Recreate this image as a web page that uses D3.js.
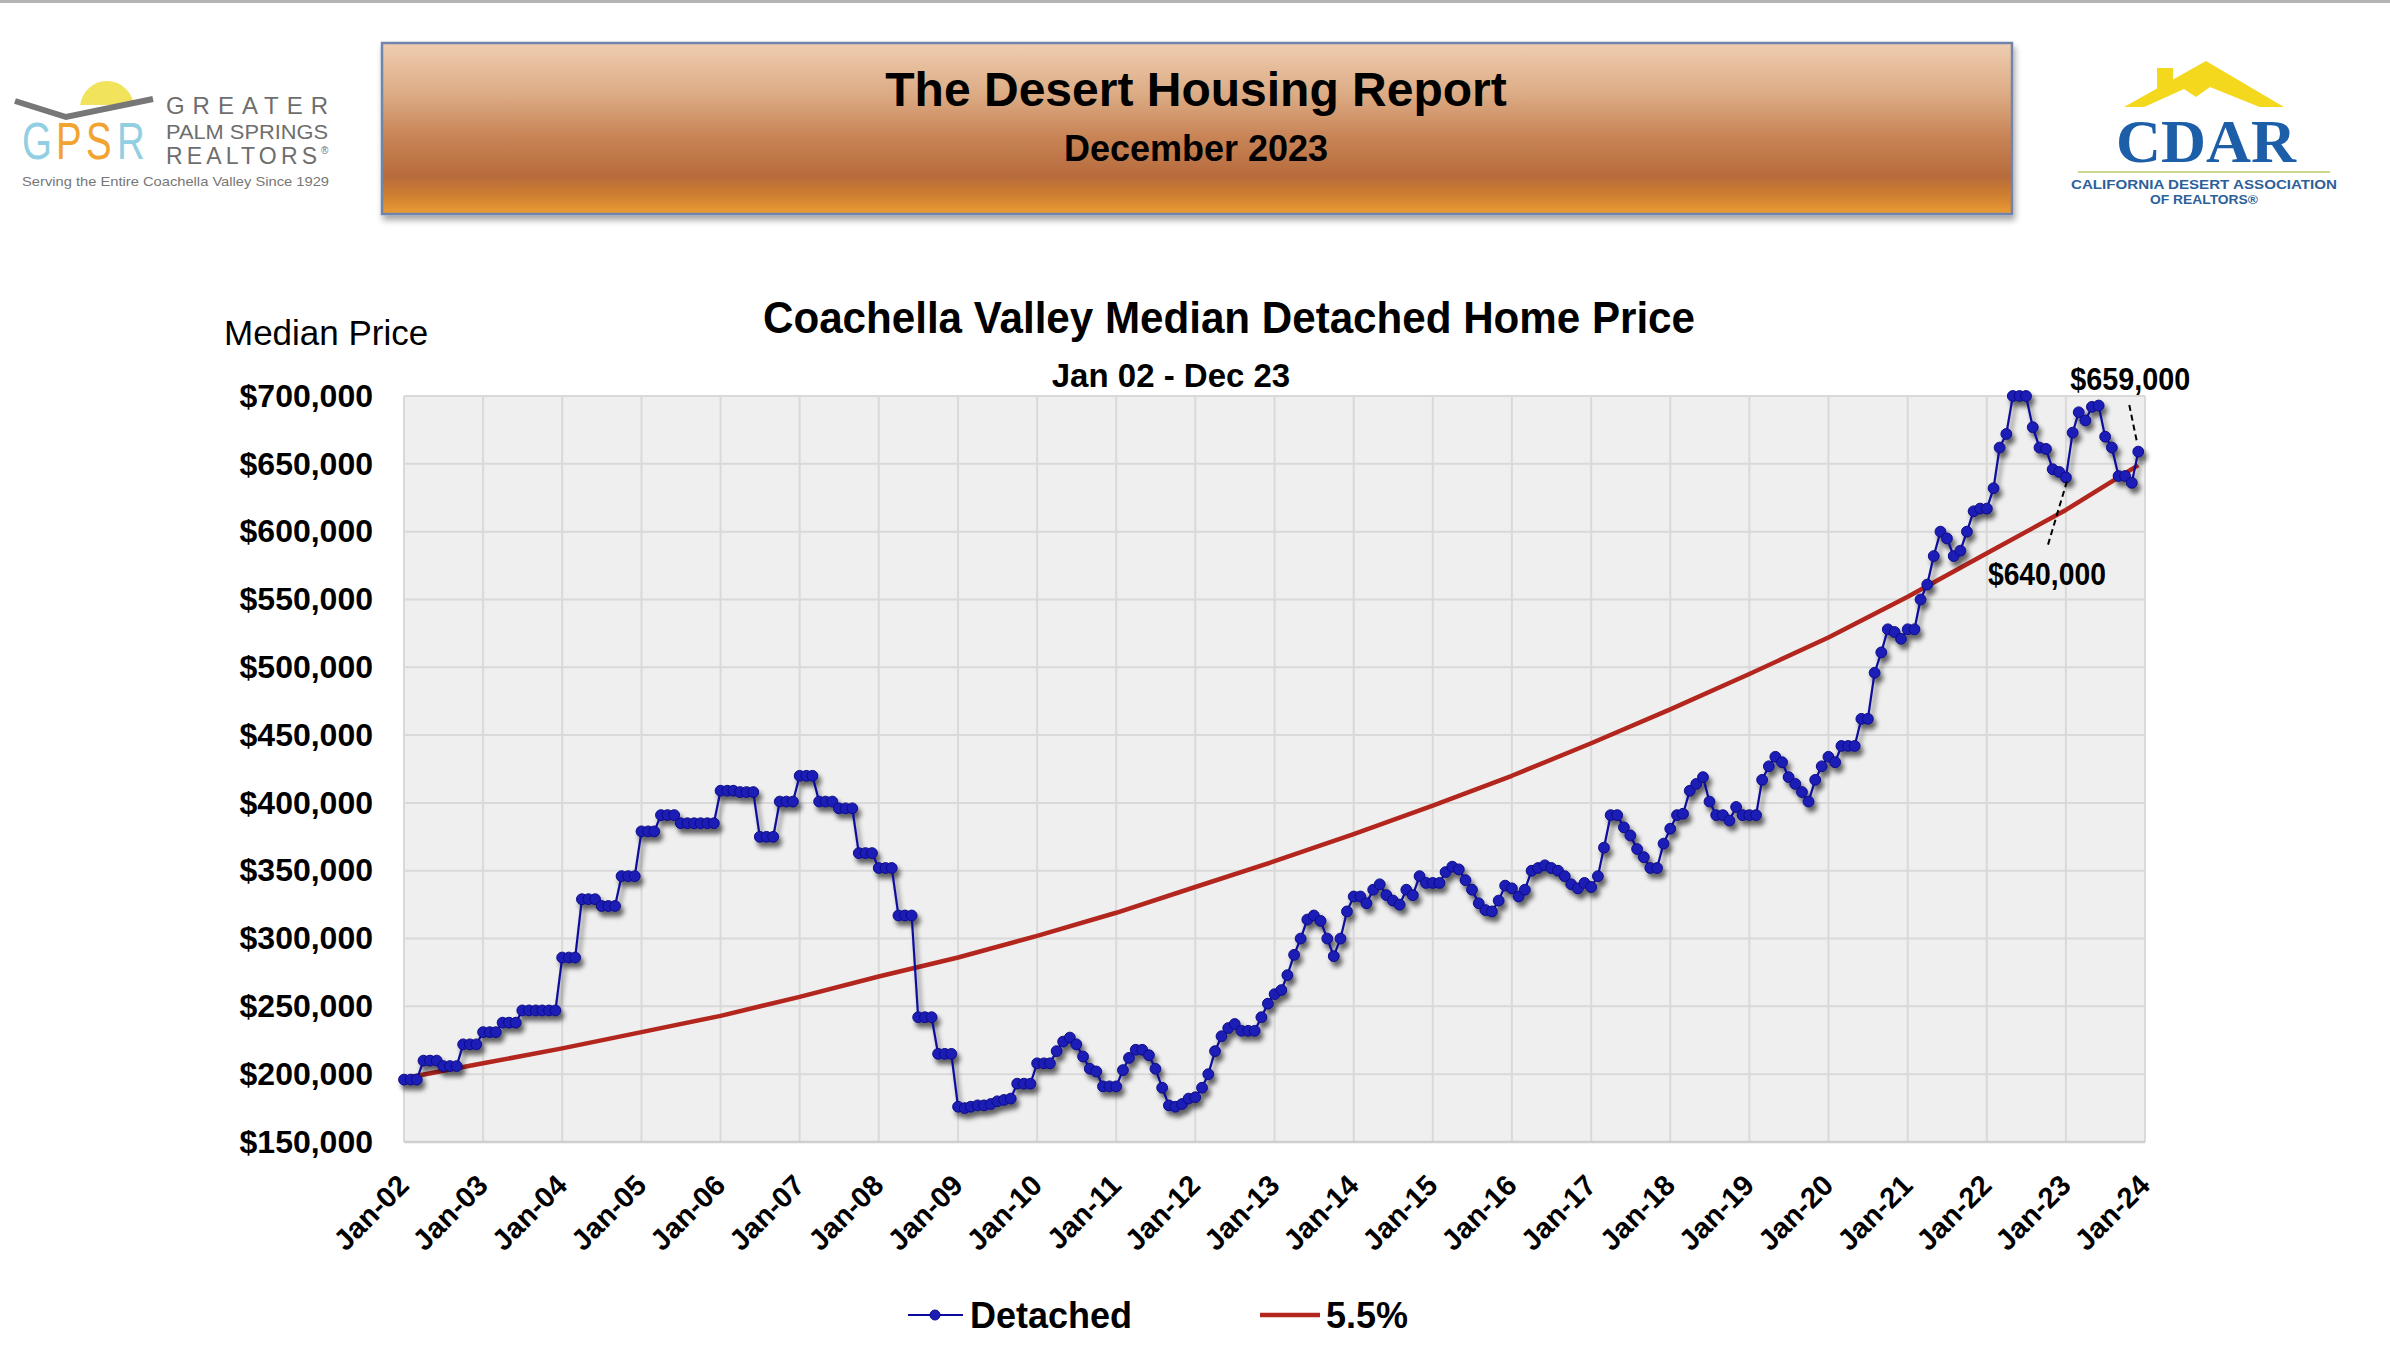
<!DOCTYPE html>
<html>
<head>
<meta charset="utf-8">
<script src="https://cdn.jsdelivr.net/npm/d3@7"></script>
<style>
  html, body { margin: 0; padding: 0; background: #ffffff; }
  svg { display: block; }
</style>
</head>
<body>
<svg id="chart" width="2390" height="1372"></svg>
<script>
// ---------------- DATA ----------------
const startYear = 2002;

// Monthly median detached price, Jan 2002 .. Dec 2023 (values in $)
const detached2002 = [196000,196000,196000,210000,210000,210000,206000,206000,206000,222000,222000,222000];
const detached2003 = [231000,231000,231000,238000,238000,238000,247000,247000,247000,247000,247000,247000];
const detached2004 = [286000,286000,286000,329000,329000,329000,324000,324000,324000,346000,346000,346000];
const detached2005 = [379000,379000,379000,391000,391000,391000,385000,385000,385000,385000,385000,385000];
const detached2006 = [409000,409000,409000,408000,408000,408000,375000,375000,375000,401000,401000,401000];
const detached2007 = [420000,420000,420000,401000,401000,401000,396000,396000,396000,363000,363000,363000];
const detached2008 = [352000,352000,352000,317000,317000,317000,242000,242000,242000,215000,215000,215000];
const detached2009 = [176000,175000,176000,177000,177000,178000,180000,181000,182000,193000,193000,193000];
const detached2010 = [208000,208000,208000,217000,224000,227000,222000,213000,204000,202000,191000,191000];
const detached2011 = [191000,203000,212000,218000,218000,214000,204000,190000,177000,176000,178000,182000];
const detached2012 = [183000,190000,200000,217000,228000,234000,237000,232000,232000,232000,242000,252000];
const detached2013 = [259000,262000,273000,288000,300000,314000,317000,313000,300000,287000,300000,320000];
const detached2014 = [331000,331000,326000,336000,340000,332000,328000,325000,336000,332000,346000,341000];
const detached2015 = [341000,341000,349000,353000,351000,343000,336000,326000,321000,320000,328000,339000];
const detached2016 = [337000,331000,336000,350000,352000,354000,352000,350000,346000,340000,337000,341000];
const detached2017 = [338000,346000,367000,391000,391000,382000,376000,366000,360000,352000,352000,370000];
const detached2018 = [381000,391000,392000,409000,414000,419000,401000,391000,391000,387000,397000,391000];
const detached2019 = [391000,391000,417000,427000,434000,430000,419000,414000,408000,401000,417000,427000];
const detached2020 = [434000,430000,442000,442000,442000,462000,462000,496000,511000,528000,526000,521000];
const detached2021 = [528000,528000,550000,561000,582000,600000,595000,582000,586000,600000,615000,617000];
const detached2022 = [617000,632000,662000,672000,700000,700000,700000,677000,662000,661000,646000,644000];
const detached2023 = [640000,673000,688000,682000,692000,693000,670000,662000,641000,641000,636000,659000];

// 5.5% reference line, read at each January (plus final Dec 2023)
const refLabels = ["Jan-02","Jan-03","Jan-04","Jan-05","Jan-06","Jan-07","Jan-08","Jan-09","Jan-10","Jan-11","Jan-12",
                   "Jan-13","Jan-14","Jan-15","Jan-16","Jan-17","Jan-18","Jan-19","Jan-20","Jan-21","Jan-22","Jan-23","Dec-23"];
const refValues = [197000,208000,219000,231000,243000,257000,272000,286000,302000,319000,338000,
                   357000,377000,398000,420000,444000,469000,495000,522000,552000,584000,616000,649000];

// axis ticks
const yTicks = [150000,200000,250000,300000,350000,400000,450000,500000,550000,600000,650000,700000];
const xTickLabels = ["Jan-02","Jan-03","Jan-04","Jan-05","Jan-06","Jan-07","Jan-08","Jan-09","Jan-10","Jan-11","Jan-12",
                     "Jan-13","Jan-14","Jan-15","Jan-16","Jan-17","Jan-18","Jan-19","Jan-20","Jan-21","Jan-22","Jan-23","Jan-24"];

// annotations
const annotLast = {label: "$659,000", value: 659000, month: "2023-12"};
const annotLow  = {label: "$640,000", value: 640000, month: "2023-01"};

// texts
const headerTitle = "The Desert Housing Report";
const headerSub = "December 2023";
const chartTitle = "Coachella Valley Median Detached Home Price";
const chartSub = "Jan 02 - Dec 23";
const yAxisTitle = "Median Price";
const seriesNames = ["Detached", "5.5%"];
const gpsrLetters = ["G", "P", "S", "R"];
const gpsrLines = ["GREATER", "PALM SPRINGS", "REALTORS"];
const gpsrTag = "Serving the Entire Coachella Valley Since 1929";
const cdarLines = ["CALIFORNIA DESERT ASSOCIATION", "OF REALTORS®"];

// ---------------- BUILD ----------------
const SANS = "'Liberation Sans', Arial, Helvetica, sans-serif";
const NARROW = "'Liberation Sans Narrow', 'Liberation Sans', Arial, sans-serif";
const SERIF = "'Liberation Serif', 'DejaVu Serif', 'Times New Roman', serif";

const detachedYears = [detached2002,detached2003,detached2004,detached2005,detached2006,detached2007,detached2008,
  detached2009,detached2010,detached2011,detached2012,detached2013,detached2014,detached2015,detached2016,
  detached2017,detached2018,detached2019,detached2020,detached2021,detached2022,detached2023];
const detached = [];
detachedYears.forEach((arr, yi) => arr.forEach((v, m) => detached.push({date: new Date(startYear + yi, m, 1), value: v})));

const parseLbl = s => {
  const mon = s.slice(0,3) === "Jan" ? 0 : 11;
  return new Date(2000 + (+s.slice(4)), mon, 1);
};
const refSeries = refLabels.map((l, i) => ({date: parseLbl(l), value: refValues[i]}));
const xTickDates = xTickLabels.map(parseLbl);

const svg = d3.select("#chart").attr("font-family", SANS);
const defs = svg.append("defs");

// top thin rule
svg.append("rect").attr("x",0).attr("y",0).attr("width",2390).attr("height",3).attr("fill","#b4b4b4");

// ---- header banner
const grad = defs.append("linearGradient").attr("id","hdrGrad").attr("x1",0).attr("y1",0).attr("x2",0).attr("y2",1);
[[0,"#efcdb1"],[0.3,"#dcab84"],[0.55,"#c88456"],[0.78,"#b76b3c"],[0.9,"#d2812f"],[1,"#ec9c34"]]
  .forEach(s => grad.append("stop").attr("offset", s[0]).attr("stop-color", s[1]));
const hShadow = defs.append("filter").attr("id","hdrShadow").attr("x","-5%").attr("y","-20%").attr("width","110%").attr("height","150%");
hShadow.append("feDropShadow").attr("dx",2).attr("dy",5).attr("stdDeviation",3).attr("flood-color","#000").attr("flood-opacity",0.35);

svg.append("rect").attr("x",382).attr("y",43).attr("width",1630).attr("height",171)
  .attr("fill","url(#hdrGrad)").attr("stroke","#6f84ad").attr("stroke-width",2.5)
  .attr("filter","url(#hdrShadow)");
svg.append("text").attr("x",1196).attr("y",106).attr("text-anchor","middle")
  .attr("font-size",48).attr("font-weight","bold").attr("fill","#000").text(headerTitle);
svg.append("text").attr("x",1196).attr("y",161).attr("text-anchor","middle")
  .attr("font-size",36).attr("font-weight","bold").attr("fill","#000").text(headerSub);

// ---- GPSR logo
const gp = svg.append("g");
defs.append("clipPath").attr("id","sunClip").append("rect").attr("x",60).attr("y",60).attr("width",100).attr("height",45);
gp.append("circle").attr("cx",107).attr("cy",108).attr("r",27).attr("fill","#f1e35c").attr("clip-path","url(#sunClip)");
gp.append("polyline").attr("points","15,101 66,117 153,99").attr("fill","none").attr("stroke","#777").attr("stroke-width",6).attr("stroke-linejoin","miter");
const gpsrStyle = [[22,"#93cfe2"],[56,"#f2a431"],[86,"#f2a431"],[117,"#93cfe2"]];
gpsrLetters.forEach((ch, i) => {
  gp.append("text").attr("transform",`translate(${gpsrStyle[i][0]},159) scale(0.74,1)`)
    .attr("font-size",52).attr("fill",gpsrStyle[i][1]).text(ch);
});
const gCol = "#6e6e6e";
gp.append("text").attr("x",166).attr("y",114).attr("font-size",24).attr("fill",gCol).attr("font-family",NARROW)
  .attr("textLength",162).attr("lengthAdjust","spacing").text(gpsrLines[0]);
gp.append("text").attr("x",166).attr("y",139).attr("font-size",21).attr("fill",gCol).attr("font-family",NARROW)
  .attr("textLength",162).attr("lengthAdjust","spacingAndGlyphs").text(gpsrLines[1]);
gp.append("text").attr("x",166).attr("y",164).attr("font-size",23).attr("fill",gCol).attr("font-family",NARROW)
  .attr("textLength",151).attr("lengthAdjust","spacing").text(gpsrLines[2]);
gp.append("text").attr("x",321).attr("y",154).attr("font-size",10).attr("fill",gCol).text("®");
gp.append("text").attr("x",22).attr("y",186).attr("font-size",13).attr("fill","#777").attr("font-family",NARROW)
  .attr("textLength",307).attr("lengthAdjust","spacingAndGlyphs").text(gpsrTag);

// ---- CDAR logo
const cd = svg.append("g");
cd.append("rect").attr("x",2157).attr("y",68).attr("width",16).attr("height",22).attr("fill","#f4d81e");
cd.append("polygon").attr("points","2124,107 2206,61 2284,107").attr("fill","#f4d81e");
cd.append("polygon").attr("points","2142,108 2184,89 2196,97 2210,87 2262,108").attr("fill","#ffffff");
cd.append("text").attr("x",2206).attr("y",162).attr("text-anchor","middle").attr("font-size",62).attr("font-weight","bold")
  .attr("font-family",SERIF).attr("fill","#1d5ea9")
  .attr("textLength",180).attr("lengthAdjust","spacingAndGlyphs").text("CDAR");
cd.append("line").attr("x1",2078).attr("x2",2330).attr("y1",172).attr("y2",172).attr("stroke","#cbd88a").attr("stroke-width",2);
cd.append("text").attr("x",2204).attr("y",189).attr("text-anchor","middle").attr("font-size",13).attr("font-weight","bold").attr("fill","#2d5f9a")
  .attr("textLength",266).attr("lengthAdjust","spacingAndGlyphs").text(cdarLines[0]);
cd.append("text").attr("x",2204).attr("y",204).attr("text-anchor","middle").attr("font-size",13).attr("font-weight","bold").attr("fill","#2d5f9a")
  .attr("textLength",108).attr("lengthAdjust","spacingAndGlyphs").text(cdarLines[1]);

// ---- chart
const plot = {left: 404, right: 2145, top: 396, bottom: 1142};
const x = d3.scaleTime().domain([xTickDates[0], xTickDates[xTickDates.length-1]]).range([plot.left, plot.right]);
const y = d3.scaleLinear().domain([yTicks[0], yTicks[yTicks.length-1]]).range([plot.bottom, plot.top]);

svg.append("rect").attr("x",plot.left).attr("y",plot.top).attr("width",plot.right-plot.left).attr("height",plot.bottom-plot.top)
  .attr("fill","#efefef");

const grid = svg.append("g");
grid.selectAll("line.v").data(xTickDates).join("line")
  .attr("x1",d=>x(d)).attr("x2",d=>x(d)).attr("y1",plot.top).attr("y2",plot.bottom)
  .attr("stroke","#d9d9d9").attr("stroke-width",2);
grid.selectAll("line.h").data(yTicks).join("line")
  .attr("x1",plot.left).attr("x2",plot.right).attr("y1",d=>y(d)).attr("y2",d=>y(d))
  .attr("stroke","#d9d9d9").attr("stroke-width",2);
svg.append("line").attr("x1",plot.left).attr("x2",plot.right).attr("y1",plot.bottom).attr("y2",plot.bottom)
  .attr("stroke","#cfcfcf").attr("stroke-width",2.5);

// y axis labels
const yAxis = svg.append("g").attr("transform",`translate(${plot.left},0)`)
  .call(d3.axisLeft(y).tickValues(yTicks).tickFormat(d3.format("$,")).tickSize(0).tickPadding(31));
yAxis.select(".domain").remove();
yAxis.selectAll("text").attr("font-size",32).attr("font-weight","bold").attr("fill","#000").attr("font-family",SANS);

// x axis labels
const xAxis = svg.append("g").attr("transform",`translate(0,${plot.bottom})`)
  .call(d3.axisBottom(x).tickValues(xTickDates).tickFormat((d,i)=>xTickLabels[i]).tickSize(0));
xAxis.select(".domain").remove();
xAxis.selectAll("text").attr("font-size",29).attr("font-weight","bold").attr("fill","#000").attr("font-family",SANS)
  .attr("text-anchor","end").attr("x",0).attr("y",0).attr("dy","0.35em")
  .attr("transform","translate(-1,38) rotate(-45)");

// titles
svg.append("text").attr("x",1229).attr("y",333).attr("text-anchor","middle").attr("font-size",44).attr("font-weight","bold")
  .attr("textLength",932).attr("lengthAdjust","spacingAndGlyphs").text(chartTitle);
svg.append("text").attr("x",1171).attr("y",387).attr("text-anchor","middle").attr("font-size",33).attr("font-weight","bold")
  .text(chartSub);
svg.append("text").attr("x",224).attr("y",345).attr("font-size",35).attr("fill","#000").text(yAxisTitle);

// 5.5% line
const lineGen = d3.line().x(d=>x(d.date)).y(d=>y(d.value));
svg.append("path").datum(refSeries).attr("d",lineGen).attr("fill","none")
  .attr("stroke","#b3261e").attr("stroke-width",4.5).attr("stroke-linejoin","round");

// Detached series with drop shadow
const sh = defs.append("filter").attr("id","ptShadow").attr("x","-5%").attr("y","-5%").attr("width","110%").attr("height","115%");
sh.append("feGaussianBlur").attr("in","SourceAlpha").attr("stdDeviation",2.6).attr("result","b");
sh.append("feOffset").attr("in","b").attr("dx",3).attr("dy",5).attr("result","o");
sh.append("feComponentTransfer").attr("in","o").attr("result","o2")
  .append("feFuncA").attr("type","linear").attr("slope",0.6);
const mg = sh.append("feMerge");
mg.append("feMergeNode").attr("in","o2");
mg.append("feMergeNode").attr("in","SourceGraphic");

const det = svg.append("g").attr("filter","url(#ptShadow)");
det.append("path").datum(detached).attr("d",lineGen).attr("fill","none")
  .attr("stroke","#0a0a9a").attr("stroke-width",2.2);
det.selectAll("circle").data(detached).join("circle")
  .attr("cx",d=>x(d.date)).attr("cy",d=>y(d.value)).attr("r",5.4)
  .attr("fill","#1d1db6").attr("stroke","#0b0b85").attr("stroke-width",1);

// annotations
const findPt = m => detached.find(d => d3.timeFormat("%Y-%m")(d.date) === m);
const pLast = findPt(annotLast.month), pLow = findPt(annotLow.month);
svg.append("text").attr("x",x(pLast.date)-8).attr("y",y(yTicks[yTicks.length-1])-6).attr("text-anchor","middle")
  .attr("font-size",31).attr("font-weight","bold").attr("textLength",120).attr("lengthAdjust","spacingAndGlyphs")
  .text(annotLast.label);
svg.append("line").attr("x1",x(pLast.date)-9).attr("y1",y(yTicks[yTicks.length-1])+9)
  .attr("x2",x(pLast.date)-1).attr("y2",y(pLast.value)-8)
  .attr("stroke","#000").attr("stroke-width",2).attr("stroke-dasharray","6,4");
svg.append("text").attr("x",x(pLow.date)-19).attr("y",y(pLow.value)+108).attr("text-anchor","middle")
  .attr("font-size",31).attr("font-weight","bold").attr("textLength",118).attr("lengthAdjust","spacingAndGlyphs")
  .text(annotLow.label);
svg.append("line").attr("x1",x(pLow.date)+1).attr("y1",y(pLow.value)+4)
  .attr("x2",x(pLow.date)-19).attr("y2",y(pLow.value)+71)
  .attr("stroke","#000").attr("stroke-width",2).attr("stroke-dasharray","6,4");

// legend
const lg = svg.append("g");
lg.append("line").attr("x1",908).attr("x2",963).attr("y1",1315).attr("y2",1315).attr("stroke","#0a0a9a").attr("stroke-width",2.2);
lg.append("circle").attr("cx",935).attr("cy",1315).attr("r",5).attr("fill","#1d1db6").attr("stroke","#0b0b85");
lg.append("text").attr("x",970).attr("y",1328).attr("font-size",36).attr("font-weight","bold").text(seriesNames[0]);
lg.append("line").attr("x1",1260).attr("x2",1320).attr("y1",1315).attr("y2",1315).attr("stroke","#b3261e").attr("stroke-width",4.5);
lg.append("text").attr("x",1326).attr("y",1328).attr("font-size",36).attr("font-weight","bold").text(seriesNames[1]);
</script>
</body>
</html>
